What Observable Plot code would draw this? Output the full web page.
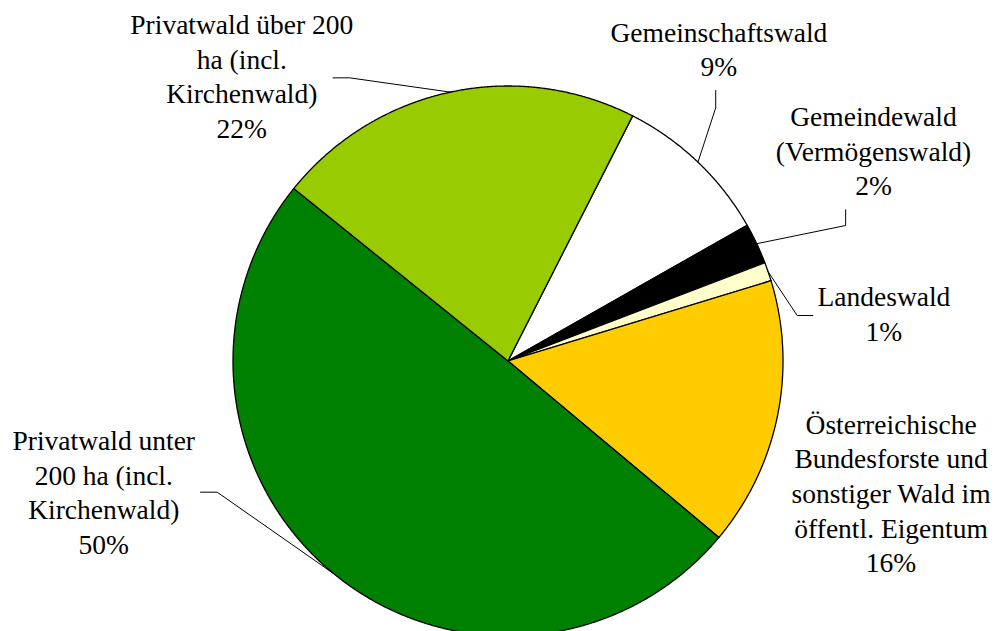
<!DOCTYPE html>
<html><head><meta charset="utf-8">
<script src="https://cdn.jsdelivr.net/npm/d3@7"></script>
<script src="https://cdn.jsdelivr.net/npm/@observablehq/plot@0.6"></script>
<style>body{margin:0;background:#fff;} svg{display:block}</style>
</head><body><div id="chart"></div>
<script>
// ---- data ----
const categories = [
  "Gemeinschaftswald",
  "Gemeindewald (Vermögenswald)",
  "Landeswald",
  "Österreichische Bundesforste und sonstiger Wald im öffentl. Eigentum",
  "Privatwald unter 200 ha (incl. Kirchenwald)",
  "Privatwald über 200 ha (incl. Kirchenwald)"
];
const labelLines = [
  "Gemeinschaftswald",
  "Gemeindewald\n(Vermögenswald)",
  "Landeswald",
  "Österreichische\nBundesforste und\nsonstiger Wald im\nöffentl. Eigentum",
  "Privatwald unter\n200 ha (incl.\nKirchenwald)",
  "Privatwald über 200\nha (incl.\nKirchenwald)"
];
const shares = [9.3, 2.4, 1.1, 15.8, 49.7, 21.7];
const colors = ["#FFFFFF", "#000000", "#FFFFCC", "#FFCC00", "#008000", "#99CC00"];

// ---- layout (in pie radius units) ----
const startAngleDeg = 26.95;
const labelAnchor = [[0.767,1.036],[1.329,0.602],[1.367,0.0745],[1.393,-0.768],[-1.47,-0.701],[-0.968,0.811]];
const leaderPath = [
  [[0.7553,0.9837],[0.7553,0.9207]],
  [[1.2278,0.5498],[1.2278,0.4927]],
  [[1.1084,0.1655],[1.0516,0.1655]],
  null,
  [[-1.1182,-0.477],[-1.0575,-0.477]],
  [[-0.6364,1.0297],[-0.5756,1.0297]]
];

const a0 = startAngleDeg * Math.PI / 180;
const arcs = d3.pie().sort(null).startAngle(a0).endAngle(a0 + 2 * Math.PI)(shares);

const slicePts = [];
arcs.forEach((a, i) => {
  const cat = categories[i];
  slicePts.push({cat, x: 0, y: 0});
  const n = Math.max(2, Math.ceil((a.endAngle - a.startAngle) / (Math.PI / 720)));
  for (let k = 0; k <= n; ++k) {
    const t = a.startAngle + (a.endAngle - a.startAngle) * k / n;
    slicePts.push({cat, x: Math.sin(t), y: Math.cos(t)});
  }
});

const leaderPts = [];
arcs.forEach((a, i) => {
  const p = leaderPath[i];
  if (!p) return;
  const m = (a.startAngle + a.endAngle) / 2;
  [...p, [Math.sin(m), Math.cos(m)]].forEach(([x, y]) => leaderPts.push({cat: categories[i], x, y}));
});

const labels = arcs.map((a, i) => ({
  x: labelAnchor[i][0], y: labelAnchor[i][1],
  text: labelLines[i] + "\n" + Math.round(shares[i]) + "%"
}));

const serif = "'Liberation Serif', 'Times New Roman', serif";
const cx = 507.5, cy = 360.5, r = 275;
const chart = Plot.plot({
  width: 994, height: 631,
  margin: 0,
  style: {fontFamily: serif, background: "#fff", overflow: "visible"},
  x: {domain: [-1, 1], range: [cx - r, cx + r], axis: null},
  y: {domain: [-1, 1], range: [cy + r, cy - r], axis: null},
  color: {domain: categories, range: colors},
  marks: [
    Plot.line(slicePts, {x: "x", y: "y", z: "cat", fill: "cat", stroke: "black", strokeWidth: 1.3, curve: "linear-closed", strokeLinejoin: "round"}),
    Plot.line(leaderPts, {x: "x", y: "y", z: "cat", stroke: "black", strokeWidth: 1}),
    Plot.text(labels, {x: "x", y: "y", text: "text", textAnchor: "middle", lineAnchor: "bottom", lineHeight: 1.258, fontSize: 27.5, fontFamily: serif, fill: "black"})
  ]
});
document.getElementById("chart").appendChild(chart);
</script>
</body></html>
